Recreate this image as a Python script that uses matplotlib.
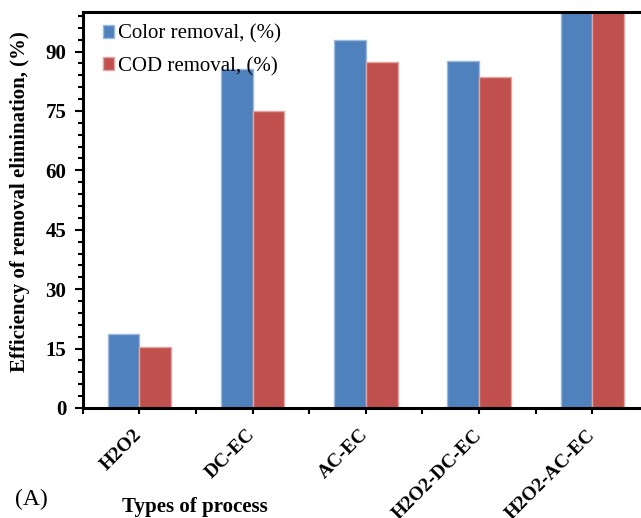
import numpy as np
import matplotlib
matplotlib.use("Agg")
import matplotlib.pyplot as plt
from matplotlib.ticker import MultipleLocator, FixedLocator

processes = ["H2O2", "DC-EC", "AC-EC", "H2O2-DC-EC", "H2O2-AC-EC"]
color_removal = [18.8, 85.6, 93.0, 87.7, 100.0]
cod_removal = [15.3, 75.1, 87.4, 83.6, 100.0]

plt.rcParams["font.family"] = ["Liberation Serif", "DejaVu Serif"]

fig = plt.figure(figsize=(6.41, 5.18), dpi=100)
# right edge of the axes sits just past the figure edge, like the cropped original
ax = fig.add_axes([0.1289, 0.2124, 0.8836, 0.7645])

x = np.arange(len(processes))
w = 0.28
ax.bar(x - w / 2, color_removal, w, color="#4F81BD", edgecolor="#9DB9DE",
       linewidth=1, label="Color removal, (%)")
ax.bar(x + w / 2, cod_removal, w, color="#C0504D", edgecolor="#E5A3A1",
       linewidth=1, label="COD removal, (%)")

ax.set_xlim(-0.5, len(processes) - 0.5)
ax.set_ylim(0, 100)

ax.yaxis.set_major_locator(FixedLocator([0, 15, 30, 45, 60, 75, 90]))
ax.yaxis.set_minor_locator(MultipleLocator(3))
ax.tick_params(axis="y", which="major", direction="out", length=5.8, width=1.5,
               labelsize=15, pad=6)
ax.tick_params(axis="y", which="minor", direction="out", length=3.6, width=1.5)
for lbl in ax.get_yticklabels():
    lbl.set_fontweight("bold")

ax.set_xticks(x)
ax.xaxis.set_minor_locator(FixedLocator(np.arange(-0.5, len(processes), 1.0)))
ax.tick_params(axis="x", which="both", direction="out", length=4.5, width=1.5)
ax.set_xticklabels(processes, rotation=45, ha="right", va="center",
                   rotation_mode="anchor", fontsize=14, fontweight="bold")
ax.tick_params(axis="x", which="major", pad=13)

for side in ["left", "bottom", "top"]:
    ax.spines[side].set_linewidth(2.2)
ax.spines["right"].set_visible(False)

ax.legend(loc="upper left", bbox_to_anchor=(0.036, 0.968), frameon=False,
          fontsize=15, handlelength=0.55, handleheight=0.55, handletextpad=0.15,
          labelspacing=0.62, borderpad=0, borderaxespad=0)

fig.text(20 / 641, 1 - 202 / 518, "Efficiency of removal elimination, (%)",
         rotation=90, ha="center", va="center", fontsize=15, fontweight="bold")
fig.text(195 / 641, 1 - 507 / 518, "Types of process", ha="center", va="center",
         fontsize=15, fontweight="bold")
fig.text(31 / 641, 1 - 499 / 518, "(A)", ha="center", va="center", fontsize=17)

fig.savefig("out.png", dpi=100)
